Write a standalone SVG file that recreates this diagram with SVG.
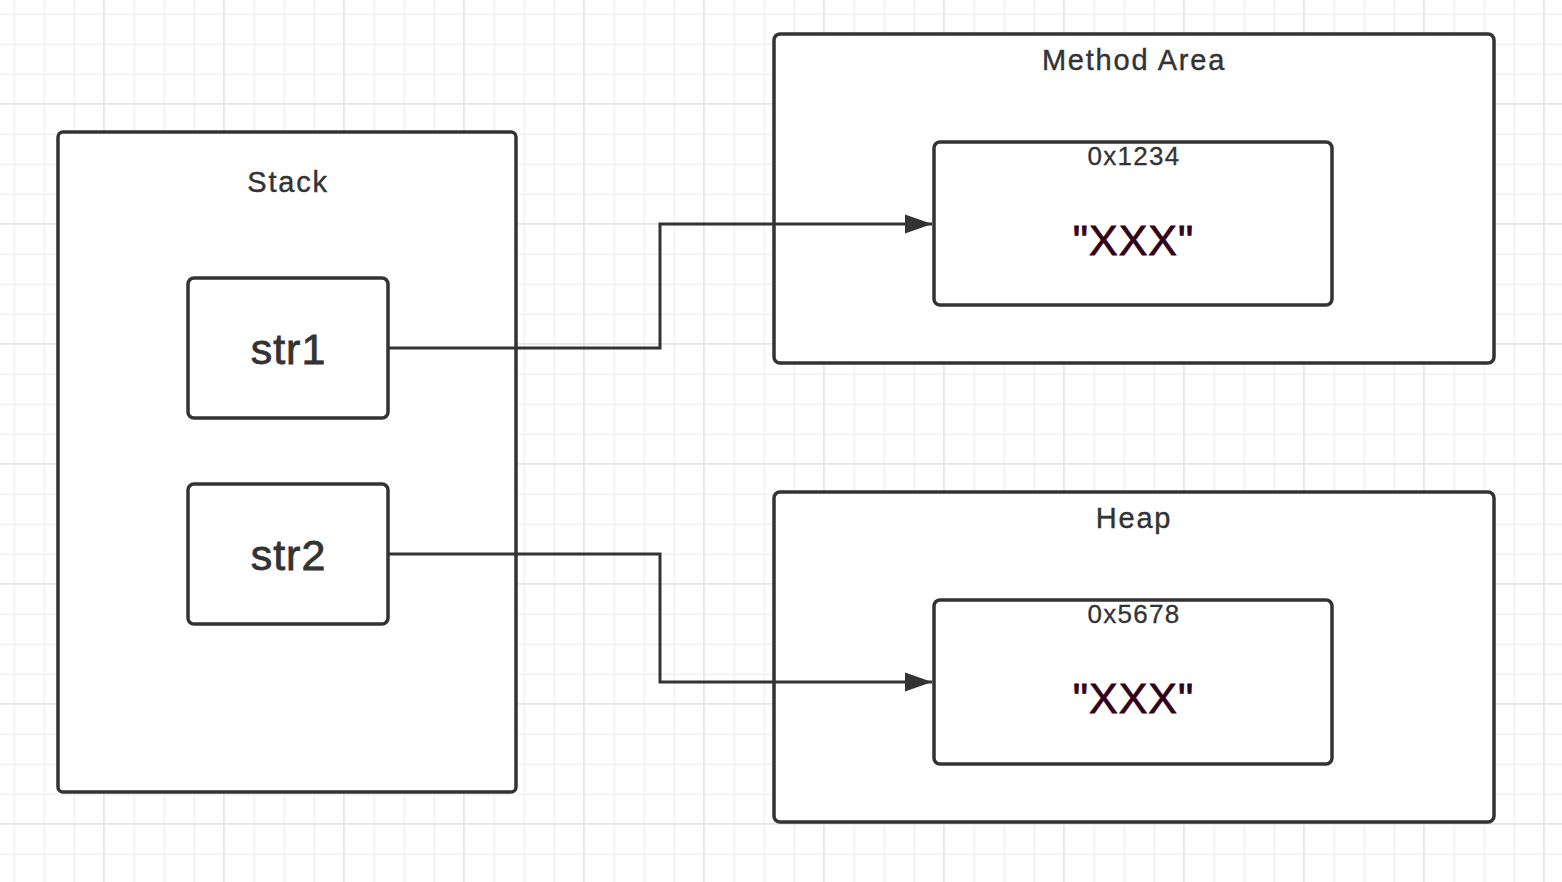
<svg xmlns="http://www.w3.org/2000/svg" width="1562" height="882" viewBox="0 0 1562 882">
<defs>
<pattern id="minor" x="13.5" y="13.5" width="30" height="30" patternUnits="userSpaceOnUse">
<path d="M0 0.5H30M0.5 0V30" stroke="#f0f0f0" stroke-width="2" fill="none"/>
</pattern>
<pattern id="major" x="103" y="103" width="120" height="120" patternUnits="userSpaceOnUse">
<path d="M0 0.5H120M0.5 0V120" stroke="#e6e6e6" stroke-width="2" fill="none"/>
</pattern>
<marker id="arr" markerUnits="userSpaceOnUse" markerWidth="30" markerHeight="22" refX="27" refY="10" orient="auto">
<path d="M0 0.5L27 10L0 19.5Z" fill="#333"/>
</marker>
</defs>
<style>
.box{fill:#fff;stroke:#333;stroke-width:3.5}
.t{font-family:"Liberation Sans",Arial,sans-serif;fill:#333;text-anchor:middle}
.title{font-size:29px;letter-spacing:1.8px;stroke:#333;stroke-width:0.4}
.addr{font-size:26px;letter-spacing:1.3px;stroke:#333;stroke-width:0.3}
.var{font-size:43px;letter-spacing:1px;stroke:#333;stroke-width:0.8}
.val{font-size:43px;letter-spacing:1px;fill:#33001a;stroke:#33001a;stroke-width:0.8}
.conn{fill:none;stroke:#333;stroke-width:3}
</style>
<rect width="1562" height="882" fill="#fff"/>
<rect width="1562" height="882" fill="url(#minor)"/>
<rect width="1562" height="882" fill="url(#major)"/>
<g id="stack">
<rect class="box" x="58" y="132" width="458" height="660" rx="5"/>
<text class="t title" x="288" y="192">Stack</text>
</g>
<g id="str1">
<rect class="box" x="188" y="278" width="200" height="140" rx="6"/>
<text class="t var" x="288.5" y="364">str1</text>
</g>
<g id="str2">
<rect class="box" x="188" y="484" width="200" height="140" rx="6"/>
<text class="t var" x="288.5" y="570">str2</text>
</g>
<g id="method-area">
<rect class="box" x="774" y="34" width="720" height="329" rx="6"/>
<text class="t title" x="1134" y="70">Method Area</text>
</g>
<g id="ma-obj">
<rect class="box" x="934" y="142" width="398" height="163" rx="6"/>
<text class="t addr" x="1134" y="165">0x1234</text>
<text class="t val" x="1133.5" y="255">"XXX"</text>
</g>
<g id="heap">
<rect class="box" x="774" y="492" width="720" height="330" rx="6"/>
<text class="t title" x="1134" y="528">Heap</text>
</g>
<g id="heap-obj">
<rect class="box" x="934" y="600" width="398" height="164" rx="6"/>
<text class="t addr" x="1134" y="623">0x5678</text>
<text class="t val" x="1133.5" y="713">"XXX"</text>
</g>
<g id="connectors">
<path class="conn" d="M388 348H660V224H932" marker-end="url(#arr)"/>
<path class="conn" d="M388 554H660V682H932" marker-end="url(#arr)"/>
</g>
</svg>
